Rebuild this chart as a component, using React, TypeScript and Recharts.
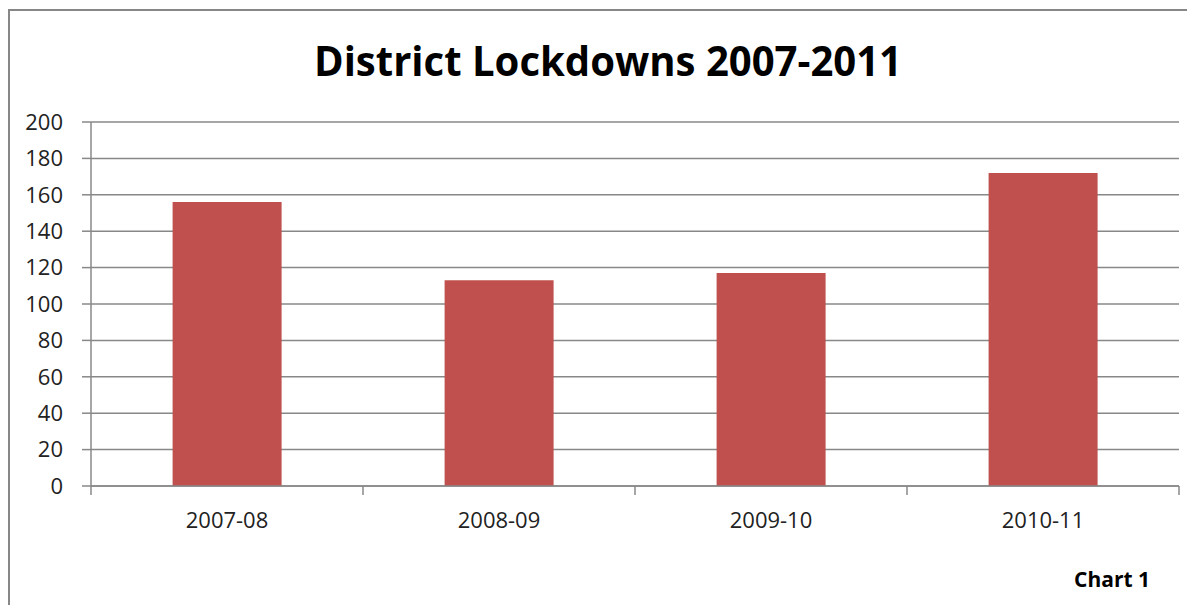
import { BarChart, Bar, CartesianGrid, XAxis, YAxis } from "recharts";

const seasons = ["2007-08", "2008-09", "2009-10", "2010-11"];
const lockdowns = [156, 113, 117, 172];
const yTicks = [0, 20, 40, 60, 80, 100, 120, 140, 160, 180, 200];

const data = seasons.map((season, i) => ({ season, lockdowns: lockdowns[i] }));

const W = 1187;
const H = 597;
const GREY = "#888888";
const FONT = "'Open Sans', 'Noto Sans', sans-serif";

// category axis with tick marks on the band edges, like Excel
const EdgeTick = (props: any) => {
  const { x, y, payload, index } = props;
  const axisW = props.width || 1088;
  const band = axisW / seasons.length;
  const left = x - band / 2;
  return (
    <g>
      <line x1={left} x2={left} y1={y} y2={y + 9} stroke={GREY} strokeWidth={1.5} />
      {index === seasons.length - 1 && (
        <line x1={x + band / 2} x2={x + band / 2} y1={y} y2={y + 9} stroke={GREY} strokeWidth={1.5} />
      )}
      <text x={x} y={y + 42} textAnchor="middle" fontSize={22} fontFamily={FONT} fill="#222">
        {payload.value}
      </text>
    </g>
  );
};

export default function App() {
  return (
    <div style={{ position: "relative", width: W, height: H, overflow: "hidden", background: "#fff" }}>
      <div
        style={{
          position: "absolute",
          left: 0,
          top: 1,
          right: -20,
          bottom: -20,
          borderLeft: "2px solid #878787",
          borderTop: "2px solid #878787",
        }}
      />
      <BarChart
        width={W}
        height={H}
        data={data}
        margin={{ top: 114, right: 16, bottom: 79, left: 0 }}
        barCategoryGap="30%"
      >
        <CartesianGrid vertical={false} stroke={GREY} strokeWidth={1.5} />
        <XAxis
          dataKey="season"
          height={40}
          stroke={GREY}
          strokeWidth={1.5}
          tickLine={false}
          tickSize={0}
          tickMargin={0}
          tick={<EdgeTick />}
          interval={0}
        />
        <YAxis
          width={83}
          domain={[0, 200]}
          ticks={yTicks}
          interval={0}
          stroke={GREY}
          strokeWidth={1.5}
          tickSize={9}
          tickMargin={19}
          tick={{ fill: "#222", fontSize: 22, fontFamily: FONT }}
        />
        <Bar dataKey="lockdowns" fill="#C0504D" isAnimationActive={false} />
      </BarChart>
      <svg
        width={W}
        height={H}
        style={{ position: "absolute", left: 0, top: 0, pointerEvents: "none" }}
      >
        <text
          x={600}
          y={68}
          textAnchor="middle"
          fontSize={42}
          fontWeight="bold"
          fontFamily={FONT}
          textLength={588}
          lengthAdjust="spacingAndGlyphs"
          fill="#000"
        >
          District Lockdowns 2007-2011
        </text>
        <text
          x={1142}
          y={579}
          textAnchor="end"
          fontSize={21}
          fontWeight="bold"
          fontFamily={FONT}
          fill="#000"
        >
          Chart 1
        </text>
      </svg>
    </div>
  );
}
